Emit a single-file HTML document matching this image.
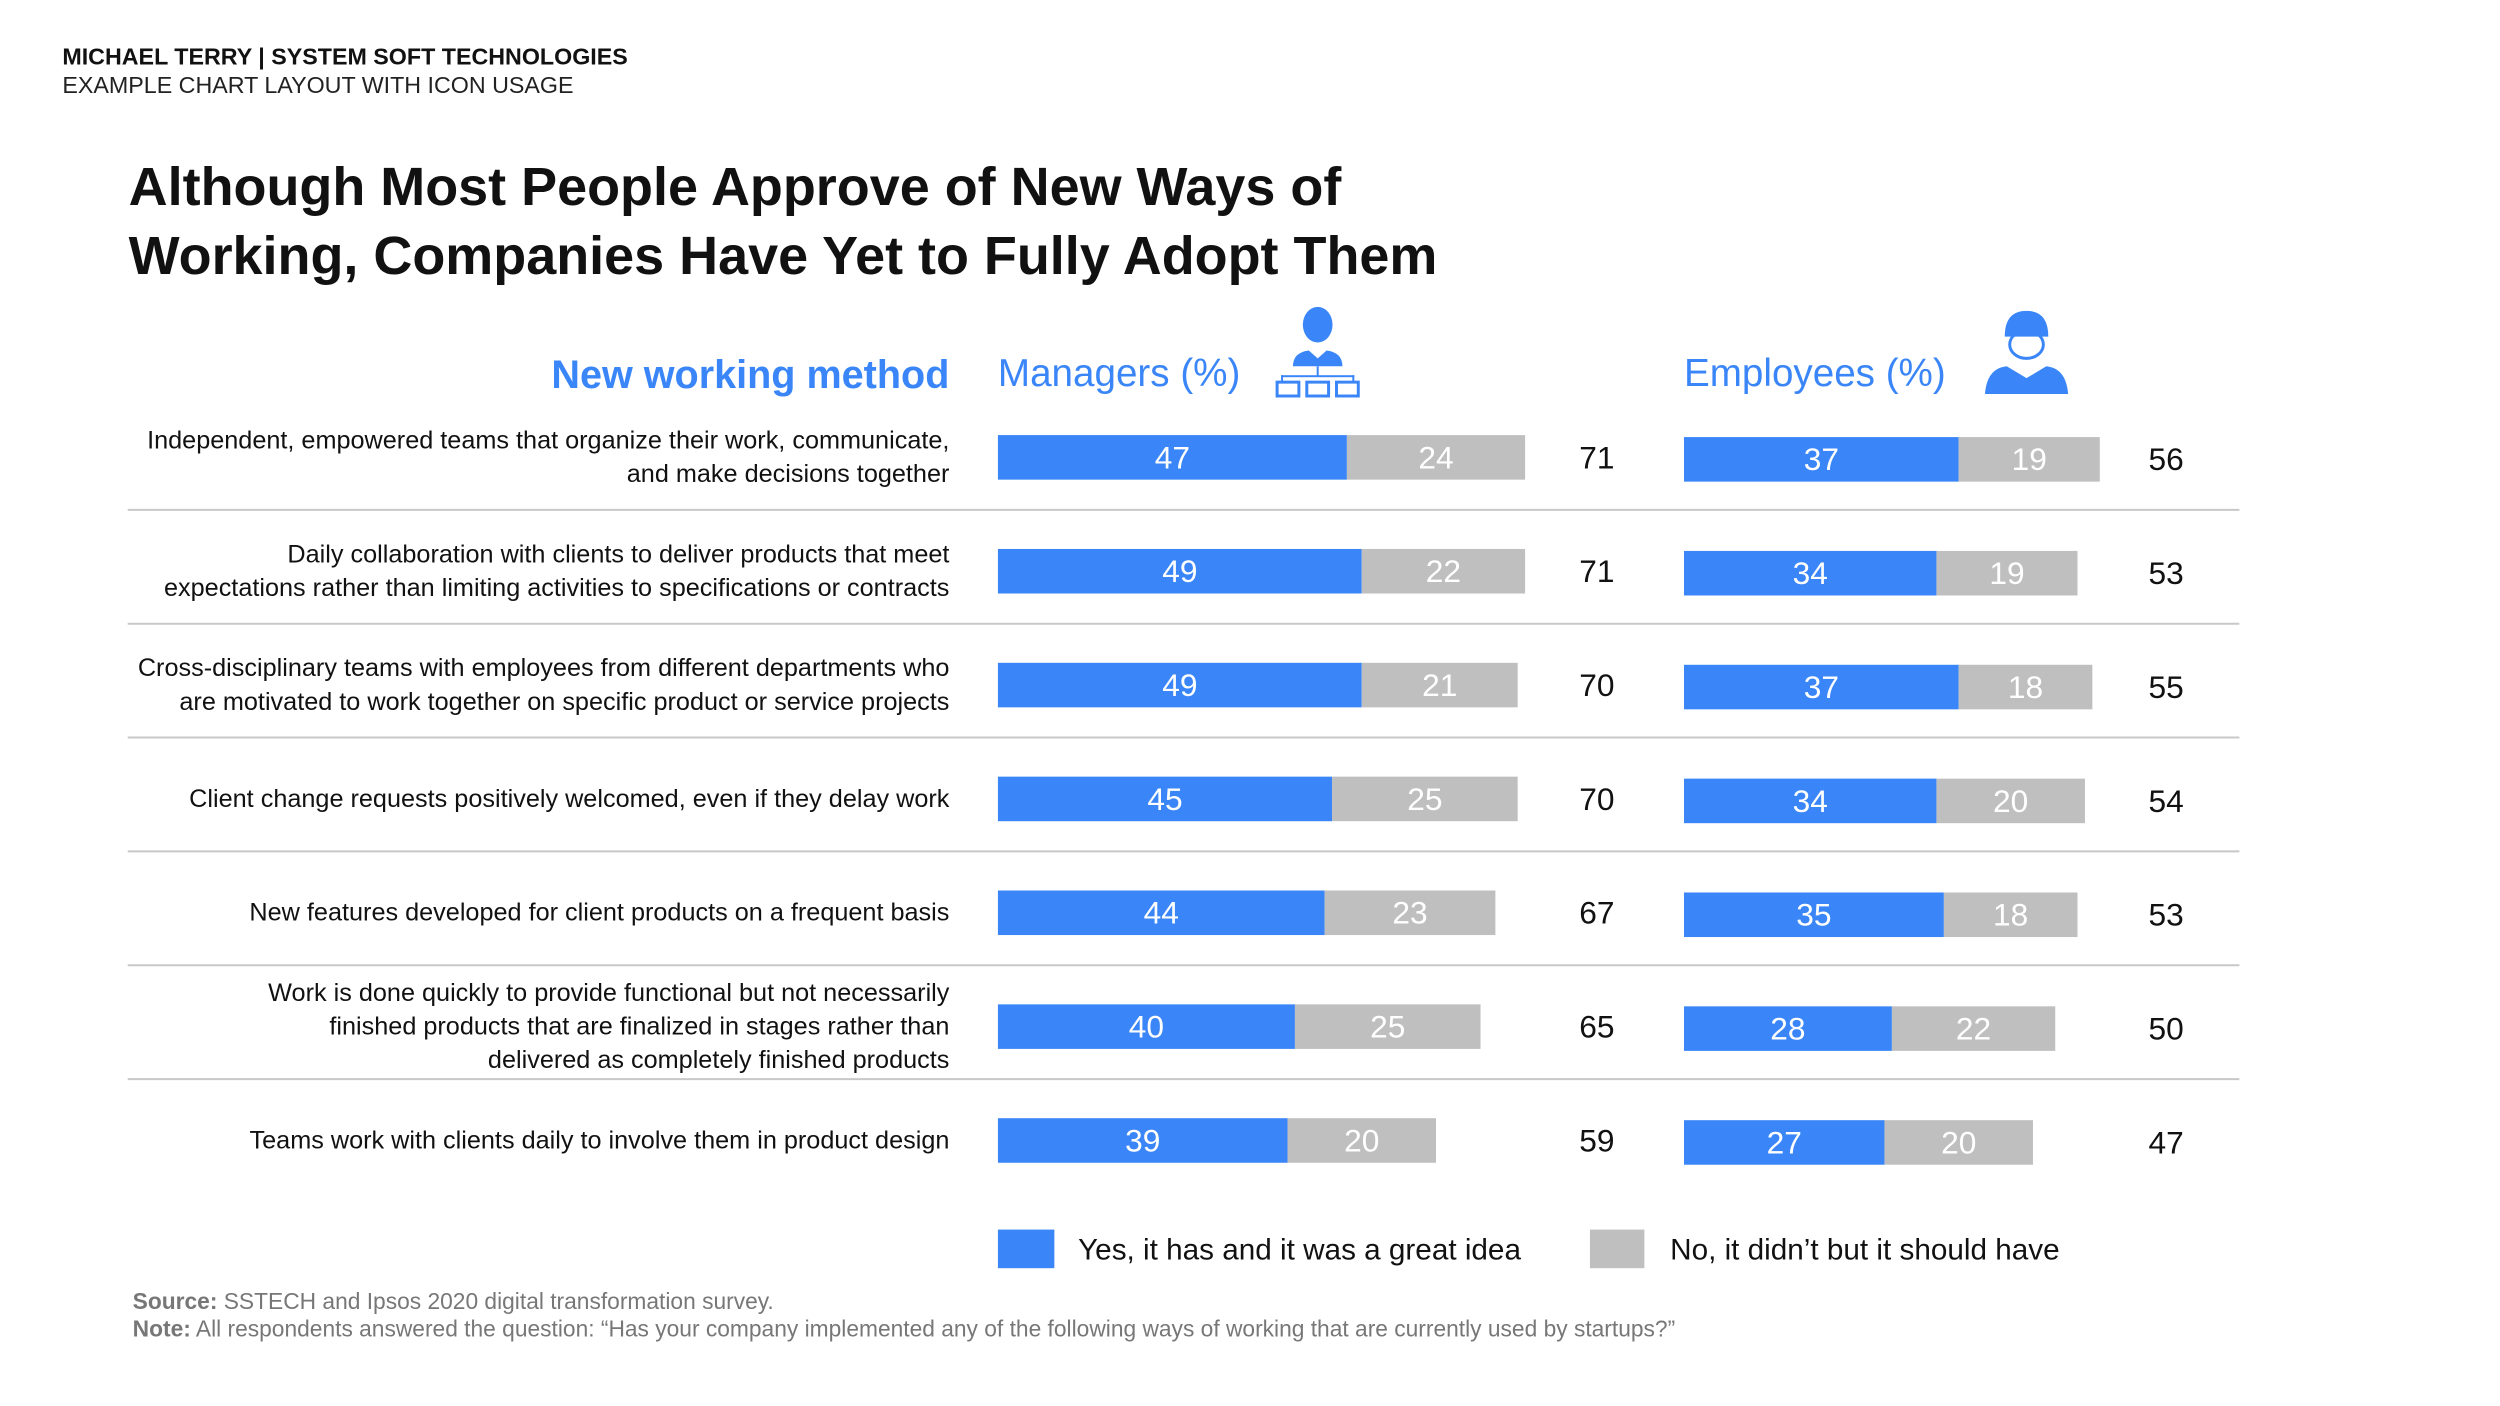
<!DOCTYPE html>
<html><head><meta charset="utf-8"><style>
html,body{margin:0;padding:0;background:#fff}
svg{display:block;font-family:"Liberation Sans",sans-serif}
</style></head><body>
<svg id="chart" width="2500" height="1406" viewBox="0 0 2500 1406" xmlns="http://www.w3.org/2000/svg">
<g transform="scale(0.99)">
<text x="63" y="65" font-size="23.5" font-weight="bold" fill="#111">MICHAEL TERRY | SYSTEM SOFT TECHNOLOGIES</text>
<text x="63" y="94" font-size="23.5" fill="#222">EXAMPLE CHART LAYOUT WITH ICON USAGE</text>
<text x="130" y="207" font-size="54.5" font-weight="bold" fill="#111">Although Most People Approve of New Ways of</text>
<text x="130" y="277" font-size="54.5" font-weight="bold" fill="#111">Working, Companies Have Yet to Fully Adopt Them</text>
<text x="959" y="392" font-size="40" font-weight="bold" fill="#3a86f8" text-anchor="end">New working method</text>
<text x="1008" y="390" font-size="39" fill="#3a86f8">Managers (%)</text>
<text x="1701" y="390" font-size="39" fill="#3a86f8">Employees (%)</text>
<g fill="#3a86f8" stroke="none">
<ellipse cx="1331" cy="328" rx="15" ry="18"/>
<path d="M1306 370 q0-14 16-16 l9 8 l9-8 q16 2 16 16z"/>
<rect x="1330" y="370" width="2" height="10"/>
<rect x="1294" y="379" width="74" height="2"/>
<rect x="1294" y="379" width="2" height="8"/><rect x="1366" y="379" width="2" height="8"/>
<rect x="1290" y="386" width="22" height="14" fill="none" stroke="#3a86f8" stroke-width="3"/>
<rect x="1320" y="386" width="22" height="14" fill="none" stroke="#3a86f8" stroke-width="3"/>
<rect x="1350" y="386" width="22" height="14" fill="none" stroke="#3a86f8" stroke-width="3"/>
</g>
<g fill="#3a86f8">
<path d="M2025 340 q0-26 22-26 q22 0 22 26z"/>
<ellipse cx="2047" cy="348" rx="17" ry="14" fill="none" stroke="#3a86f8" stroke-width="3"/>
<path d="M2005 398 q2-26 22-28 l20 12 l20-12 q20 2 22 28z"/>
</g>
<g id="rows"></g>
<rect x="1008" y="1242" width="57" height="39" fill="#3a86f8"/>
<text x="1089" y="1272" font-size="30" fill="#111">Yes, it has and it was a great idea</text>
<rect x="1606" y="1242" width="55" height="39" fill="#bfbfbf"/>
<text x="1687" y="1272" font-size="30" fill="#111">No, it didn’t but it should have</text>
<text x="134" y="1322" font-size="23" fill="#777"><tspan font-weight="bold">Source:</tspan> SSTECH  and Ipsos 2020 digital transformation survey.</text>
<text x="134" y="1350" font-size="23" fill="#777"><tspan font-weight="bold">Note:</tspan> All respondents answered the question: “Has your company implemented any of the following ways of working that are currently used by startups?”</text>
</g>
</svg>
<script>
const categories=[
["Independent, empowered teams that organize their work, communicate,","and make decisions together"],
["Daily collaboration with clients to deliver products that meet","expectations rather than limiting activities to specifications or contracts"],
["Cross-disciplinary teams with employees from different departments who","are motivated to work together on specific product or service projects"],
["Client change requests positively welcomed, even if they delay work"],
["New features developed for client products on a frequent basis"],
["Work is done quickly to provide functional but not necessarily","finished products that are finalized in stages rather than","delivered as completely finished products"],
["Teams work with clients daily to involve them in product design"]];
const managersYes=[47,49,49,45,44,40,39];
const managersNo=[24,22,21,25,23,25,20];
const employeesYes=[37,34,37,34,35,28,27];
const employeesNo=[19,19,18,20,18,22,20];
const NS="http://www.w3.org/2000/svg";
const g=document.getElementById('rows');
const scale=v=>v*7.5;
const rowY=i=>462+i*115;
function mk(t,a,txt){const e=document.createElementNS(NS,t);for(const k in a)e.setAttribute(k,a[k]);if(txt!==undefined)e.textContent=txt;g.appendChild(e);return e;}
function bars(x0,yes,no,cy,prefix,totalX){
 const h=45;
 const b1=mk('rect',{x:x0,y:cy-h/2,width:scale(yes),height:h,fill:'#3a86f8'});
 
 
 const b2=mk('rect',{x:x0+scale(yes),y:cy-h/2,width:scale(no),height:h,fill:'#bfbfbf'});
 
 
 const t1=mk('text',{x:x0+scale(yes)/2,y:cy+11,'font-size':32,fill:'#fff','text-anchor':'middle'},yes);
 
 
 const t2=mk('text',{x:x0+scale(yes)+scale(no)/2,y:cy+11,'font-size':32,fill:'#fff','text-anchor':'middle'},no);
 
 
 const t3=mk('text',{x:totalX,y:cy+11,'font-size':32,fill:'#111','text-anchor':'middle'},yes+no);
 
 
}
categories.forEach((lines,i)=>{
 const cy=rowY(i);
 const n=lines.length;
 lines.forEach((l,j)=>{
  const t=mk('text',{x:959,y:cy+8+(j-(n-1)/2)*34,'font-size':25.5,fill:'#111','text-anchor':'end'},l);
  
  
 });
 bars(1008,managersYes[i],managersNo[i],cy,'managers',1613);
 bars(1701,employeesYes[i],employeesNo[i],cy+2,'employees',2188);
 if(i<categories.length-1){
  const s=mk('line',{x1:129,x2:2262,y1:cy+53,y2:cy+53,stroke:'#c8c8c8','stroke-width':2});
  
  
 }
});
</script>
</body></html>
